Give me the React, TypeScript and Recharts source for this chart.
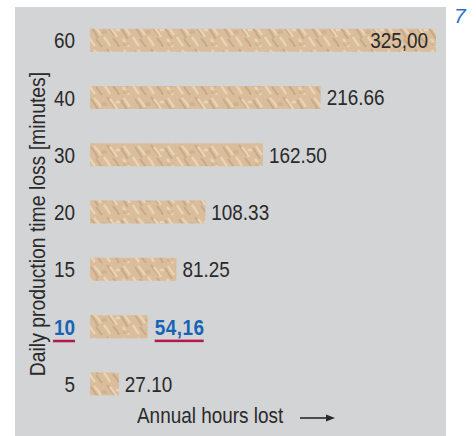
import React from "react"
import { BarChart, Bar, XAxis, YAxis, LabelList } from "recharts"

const minutes = ["60", "40", "30", "20", "15", "10", "5"]
const hoursLost = [325.0, 216.66, 162.5, 108.33, 81.25, 54.16, 27.1]
const valueLabels = ["325,00", "216.66", "162.50", "108.33", "81.25", "54,16", "27.10"]
const highlighted = "10"

const chartData = minutes.map((m, i) => ({
    minutes: m,
    hours: hoursLost[i],
    text: valueLabels[i]
}))

// no narrow font installed, so squeeze Liberation Sans horizontally
const FONT = '"Liberation Sans", Arial, sans-serif'
const SQ = 0.86
const DARK = "#2a2a2a"
const BLUE = "#1565b5"
const RED = "#b3184c"

const NarrowText = ({ x, y, anchor, bold, color, spacing, children }: any) => (
    <g transform={`translate(${x},${y}) scale(${SQ},1)`}>
        <text
            x={0}
            y={0}
            textAnchor={anchor || "start"}
            fontFamily={FONT}
            fontSize={22}
            fontWeight={bold ? 700 : 400}
            letterSpacing={spacing || 0}
            fill={color || DARK}
        >
            {children}
        </text>
    </g>
)

const MinuteTick = (props: any) => {
    const { x, y, payload } = props
    const hi = payload.value === highlighted
    return (
        <g>
            <NarrowText x={x - 7} y={y + 8} anchor="end" bold={hi} color={hi ? BLUE : DARK}>
                {payload.value}
            </NarrowText>
            {hi && <rect x={x - 29} y={y + 13} width={22} height={2.5} fill={RED} />}
        </g>
    )
}

const ValueLabel = (props: any) => {
    const { x, y, width, height, index } = props
    const text = valueLabels[index]
    const cy = y + height / 2 + 8
    if (index === 0) {
        return (
            <NarrowText x={x + width - 8} y={cy} anchor="end">
                {text}
            </NarrowText>
        )
    }
    if (minutes[index] === highlighted) {
        return (
            <g>
                <NarrowText x={x + width + 7} y={cy} bold color={BLUE} spacing={0.6}>
                    {text}
                </NarrowText>
                <rect x={x + width + 7} y={cy + 5} width={49} height={2.5} fill={RED} />
            </g>
        )
    }
    return (
        <NarrowText x={x + width + 6} y={cy}>
            {text}
        </NarrowText>
    )
}

export default function App() {
    return (
        <div style={{ position: "absolute", left: 0, top: 0, width: 476, height: 436, background: "#fff", overflow: "hidden" }}>
            <div style={{ position: "absolute", left: 15, top: 7, width: 431, height: 440, background: "#d3d4d6" }} />
            <div style={{ position: "absolute", left: 0, top: 0 }}>
                <BarChart
                    width={476}
                    height={436}
                    data={chartData}
                    layout="vertical"
                    margin={{ top: 11.7, right: 40, left: 10, bottom: 23.3 }}
                    barCategoryGap={0}
                >
                    <defs>
                        {/* rough sandy texture for the bars */}
                        <pattern id="sand" width="44" height="24" patternUnits="userSpaceOnUse">
                            <rect width="44" height="24" fill="#dabd9a" />
                            <path d="M3 3 Q7 8 10 14 M19 1 Q23 7 27 12 M33 4 Q36 9 40 15 M8 15 Q11 19 14 23 M25 14 Q29 18 31 23" stroke="#b48f6a" strokeWidth="1.8" fill="none" opacity="0.45" />
                            <path d="M6 2 Q10 6 13 11 M22 3 Q26 8 29 13 M36 2 Q39 7 42 11 M1 13 Q4 18 7 22 M16 13 Q20 18 22 22 M35 15 Q38 19 41 23" stroke="#efdfc6" strokeWidth="2.4" fill="none" opacity="0.7" />
                            <ellipse cx="16" cy="8" rx="3" ry="2" fill="#c7a47d" opacity="0.45" />
                            <ellipse cx="38" cy="20" rx="3" ry="2" fill="#c7a47d" opacity="0.45" />
                            <ellipse cx="30" cy="6" rx="2.5" ry="1.5" fill="#f2e2cb" opacity="0.6" />
                        </pattern>
                    </defs>
                    <XAxis type="number" domain={[0, 325]} hide />
                    <YAxis
                        type="category"
                        dataKey="minutes"
                        width={80}
                        axisLine={false}
                        tickLine={false}
                        tick={<MinuteTick />}
                        interval={0}
                    />
                    <Bar dataKey="hours" fill="url(#sand)" barSize={23} isAnimationActive={false}>
                        <LabelList dataKey="text" content={<ValueLabel />} />
                    </Bar>
                </BarChart>
            </div>
            <div
                style={{
                    position: "absolute",
                    left: 38,
                    top: 224,
                    transform: `translate(-50%, -50%) rotate(-90deg) scaleX(${SQ})`,
                    whiteSpace: "nowrap",
                    fontFamily: FONT,
                    fontSize: 22.5,
                    color: DARK,
                    lineHeight: 1
                }}
            >
                Daily production time loss [minutes]
            </div>
            <div
                style={{
                    position: "absolute",
                    left: 137,
                    top: 405,
                    transform: `scaleX(${SQ})`,
                    transformOrigin: "0 0",
                    whiteSpace: "nowrap",
                    fontFamily: FONT,
                    fontSize: 22,
                    color: DARK,
                    lineHeight: 1
                }}
            >
                Annual hours lost
            </div>
            <svg style={{ position: "absolute", left: 298, top: 412 }} width={40} height={12}>
                <line x1={2} y1={6} x2={30} y2={6} stroke={DARK} strokeWidth={1.6} />
                <path d="M28 2.5 L37 6 L28 9.5 Z" fill={DARK} />
            </svg>
            <div
                style={{
                    position: "absolute",
                    left: 454,
                    top: 5,
                    fontFamily: FONT,
                    fontStyle: "italic",
                    fontSize: 21,
                    color: "#2b72c2",
                    lineHeight: 1
                }}
            >
                7
            </div>
        </div>
    )
}
